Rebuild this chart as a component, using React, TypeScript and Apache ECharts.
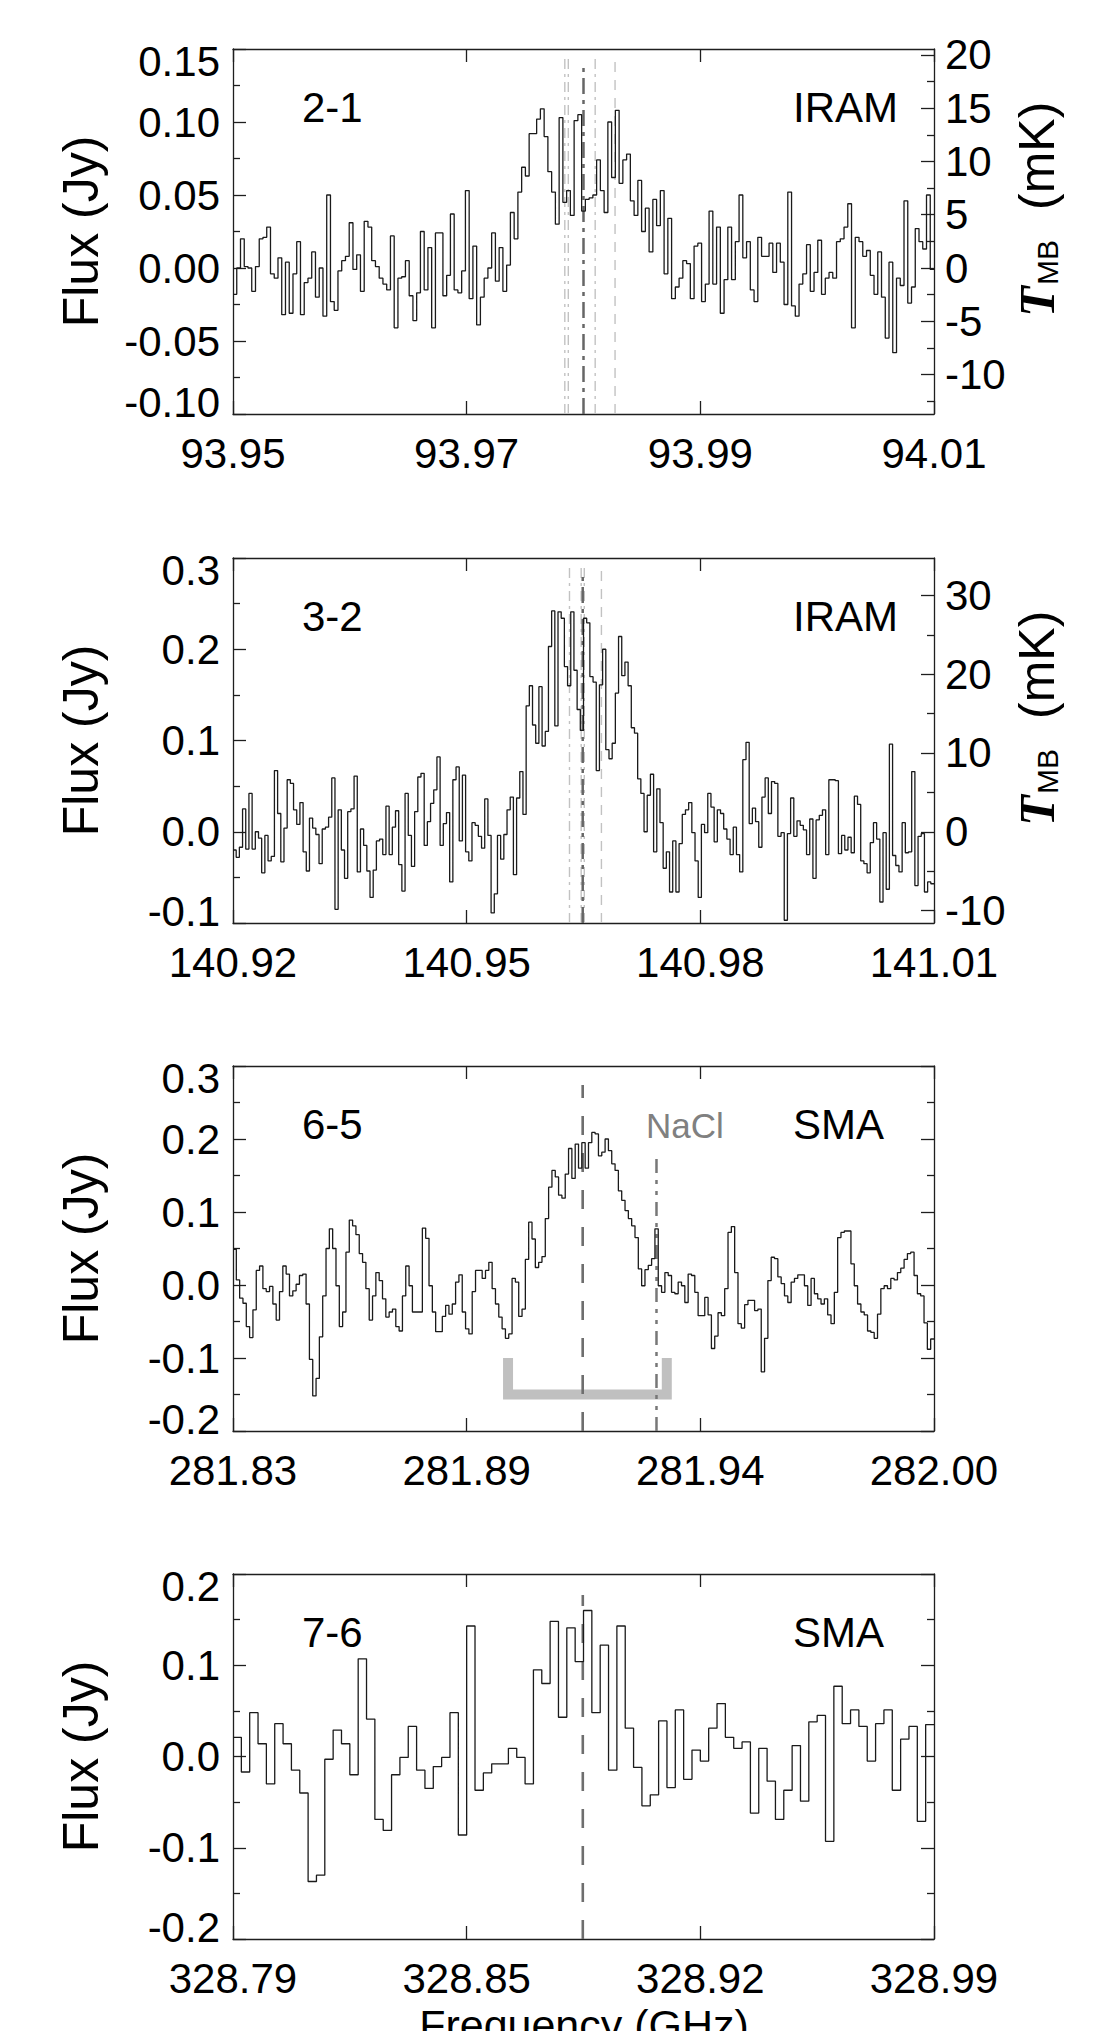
import React, { useEffect, useRef } from "react";
import * as echarts from "echarts";

// ---------- layout (pixels) ----------
const GRID_TOPS = [49, 558, 1066, 1574];
const GRID_LEFT = 233;
const GRID_W = 701;
const GRID_H = 365;
const FONT = "'Liberation Sans', Arial, Helvetica, sans-serif";
const FRAME = "#1e1e1e";

// ---------- axes ----------
const xMin = [93.95, 140.92, 281.83, 328.79];
const xMax = [94.01, 141.01, 282.0, 328.99];
const xTickLabels = [
  ["93.95", "93.97", "93.99", "94.01"],
  ["140.92", "140.95", "140.98", "141.01"],
  ["281.83", "281.89", "281.94", "282.00"],
  ["328.79", "328.85", "328.92", "328.99"],
];
const yMin = [-0.1, -0.1, -0.2, -0.2];
const yMax = [0.15, 0.3, 0.3, 0.2];
const yStep = [0.05, 0.1, 0.1, 0.1];
const yDigits = [2, 1, 1, 1];

// right-hand main-beam temperature axes (panels 1 and 2)
const tmbPerJy = [137.0, 115.8];
const tmbTicks = [
  [-10, -5, 0, 5, 10, 15, 20],
  [-10, 0, 10, 20, 30],
];
const tmbStep = [5, 10];

const transitionLabels = ["2-1", "3-2", "6-5", "7-6"];
const telescopeLabels = ["IRAM", "IRAM", "SMA", "SMA"];

// ---------- spectra (Jy per channel) ----------
const flux21 = [
  -0.018, 0.0, 0.02, 0.001, 0.0, -0.016, 0.001, 0.02, 0.021, 0.028,
  -0.004, -0.007, 0.007, -0.032, 0.004, -0.031, -0.004, 0.018, -0.032, -0.01,
  -0.007, 0.011, -0.02, 0.0, -0.033, 0.05, -0.023, -0.029, -0.002, 0.005,
  0.008, 0.031, -0.001, 0.009, -0.016, 0.032, 0.028, 0.005, 0.001, -0.007,
  -0.011, -0.015, 0.022, -0.041, -0.007, -0.006, 0.005, -0.019, -0.036, -0.017,
  0.025, -0.015, 0.014, -0.041, 0.024, 0.024, -0.019, -0.005, 0.037, -0.015,
  -0.017, -0.002, 0.053, -0.021, 0.015, -0.039, -0.02, -0.007, 0.0, 0.024,
  -0.009, 0.014, -0.016, 0.002, 0.038, 0.02, 0.052, 0.069, 0.063, 0.092,
  0.092, 0.102, 0.109, 0.09, 0.066, 0.052, 0.03, 0.103, 0.045, 0.053,
  0.036, 0.101, 0.105, 0.039, 0.047, 0.048, 0.05, 0.074, 0.053, 0.038,
  0.1, 0.062, 0.108, 0.058, 0.074, 0.078, 0.046, 0.036, 0.06, 0.025,
  0.041, 0.011, 0.047, 0.029, 0.053, -0.004, 0.034, -0.021, -0.013, -0.007,
  0.005, 0.003, -0.021, 0.015, 0.017, -0.023, -0.011, 0.039, -0.011, 0.028,
  -0.031, -0.008, 0.028, -0.008, 0.018, 0.05, 0.007, 0.018, -0.015, -0.023,
  0.021, 0.008, 0.008, 0.017, -0.003, 0.017, 0.004, -0.025, 0.052, -0.026,
  -0.033, -0.011, -0.004, 0.016, -0.016, -0.003, 0.019, -0.018, -0.007, -0.003,
  -0.007, 0.018, 0.02, 0.028, 0.044, -0.041, 0.021, 0.018, 0.008, 0.012,
  -0.005, -0.018, 0.011, -0.02, -0.048, 0.004, -0.058, -0.007, -0.012, 0.046,
  -0.024, -0.013, 0.027, 0.018, 0.013, 0.05, -0.001,
];

const flux32 = [
  -0.02, -0.028, -0.017, 0.025, -0.019, 0.042, -0.019, 0.0, -0.007, -0.045,
  -0.004, -0.032, -0.027, 0.067, 0.02, -0.033, 0.004, 0.057, 0.053, 0.024,
  0.008, 0.032, -0.022, -0.043, 0.015, 0.004, -0.003, -0.035, 0.003, 0.005,
  0.016, 0.059, -0.085, 0.024, -0.02, -0.051, 0.022, 0.025, 0.061, -0.044,
  0.003, -0.015, -0.043, -0.072, -0.042, -0.01, -0.008, -0.025, 0.028, -0.025,
  0.005, 0.023, -0.036, -0.065, 0.042, -0.004, -0.038, 0.022, 0.06, 0.064,
  -0.015, 0.011, 0.031, 0.046, 0.082, -0.015, 0.009, 0.021, -0.055, 0.057,
  0.071, -0.01, 0.062, -0.022, -0.032, 0.01, 0.007, -0.005, -0.018, 0.036,
  -0.004, -0.089, -0.068, -0.004, -0.03, -0.003, 0.024, 0.038, -0.047, 0.037,
  0.066, 0.019, 0.138, 0.16, 0.117, 0.097, 0.159, 0.094, 0.11, 0.203,
  0.242, 0.116, 0.241, 0.234, 0.181, 0.16, 0.241, 0.177, 0.134, 0.111,
  0.234, 0.229, 0.17,
  0.164, 0.067, 0.161, 0.2, 0.09, 0.08, 0.097, 0.152, 0.214, 0.171,
  0.186, 0.16, 0.114, 0.108, 0.058, 0.042, 0.0, 0.04, 0.063, -0.022,
  0.047, 0.01, -0.04, -0.022, -0.066, -0.01, -0.066, -0.013, 0.019, 0.024,
  0.032, -0.001, -0.032, -0.072, 0.008, -0.001, 0.042, 0.027, -0.011, 0.024,
  0.02, 0.003, -0.008, -0.025, 0.005, -0.025, -0.044, 0.079, 0.098, 0.009,
  0.026, 0.011, -0.017, 0.038, 0.059, 0.02, 0.055, 0.053, -0.005, -0.001,
  -0.097, -0.002, 0.037, -0.005, 0.012, 0.007, 0.002, -0.025, 0.014, -0.051,
  0.013, 0.018, 0.024, -0.025, 0.057, 0.057, 0.056, -0.024, -0.004, -0.02,
  -0.006, -0.023, 0.039, 0.03, -0.032, -0.035, -0.045, -0.012, 0.01, -0.008,
  -0.077, -0.001, -0.063, 0.096, -0.026, -0.037, -0.044, 0.01, -0.023, -0.022,
  0.066, -0.059, -0.005, -0.002, -0.066, -0.055, -0.057,
];

const flux65 = [
  0.049, 0.007, -0.018, -0.025, -0.057, -0.072, -0.034, 0.02, 0.026, -0.005,
  -0.009, -0.002, -0.026, -0.048, -0.009, 0.026, 0.015, -0.015, -0.008, 0.001,
  0.013, 0.015, -0.026, -0.102, -0.152, -0.128, -0.071, -0.015, 0.05, 0.077,
  0.05, -0.001, -0.057, -0.037, 0.045, 0.089, 0.081, 0.069, 0.043, 0.031,
  -0.005, -0.048, -0.015, 0.017, 0.006, -0.019, -0.044, -0.037, -0.033, -0.057,
  -0.063, -0.015, 0.026, -0.001, -0.037, -0.037, -0.037, 0.078, 0.064, -0.001,
  -0.037, -0.064, -0.064, -0.043, -0.028, -0.04, -0.026, 0.004, 0.014, -0.037,
  -0.06, -0.067, -0.009, 0.02, 0.02, 0.009, 0.02, 0.031, -0.005, -0.026,
  -0.044, -0.06, -0.073, -0.067, 0.009, 0.004, -0.043, -0.033, 0.035, 0.086,
  0.063, 0.024, 0.031, 0.039, 0.091, 0.134, 0.157, 0.148, 0.123, 0.119,
  0.152, 0.187, 0.146, 0.193, 0.16, 0.195, 0.16,
  0.195, 0.209, 0.207, 0.177, 0.182, 0.2, 0.184, 0.166, 0.157, 0.129,
  0.116, 0.102, 0.091, 0.081, 0.065, 0.022, -0.001, 0.021, 0.027, 0.036,
  0.077, -0.001, -0.01, 0.017, 0.013, -0.01, -0.012, 0.004, -0.001, -0.024,
  0.015, 0.013, -0.01, -0.042, -0.042, -0.017, -0.041, -0.087, -0.07, -0.038,
  -0.042, -0.005, 0.072, 0.08, 0.017, -0.053, -0.059, -0.027, -0.021, -0.021,
  -0.035, -0.033, -0.119, -0.073, 0.006, 0.038, 0.036, 0.011, 0.002, -0.015,
  -0.024, 0.004, 0.009, 0.014, 0.014, -0.001, -0.028, 0.009, -0.012, -0.019,
  -0.026, -0.019, -0.041, -0.053, -0.01, 0.065, 0.072, 0.074, 0.074, 0.029,
  -0.001, -0.026, -0.037, -0.041, -0.063, -0.065, -0.073, -0.04, -0.005, -0.001,
  -0.005, 0.009, 0.007, 0.017, 0.023, 0.035, 0.043, 0.045, 0.013, -0.012,
  -0.015, -0.052, -0.088, -0.074,
];

const flux76 = [
  0.021, -0.017, 0.048, 0.014, -0.03, 0.036, 0.014, -0.015, -0.04, -0.137,
  -0.13, -0.003, 0.029, 0.014, -0.02, 0.107, 0.041, -0.069, -0.081, -0.02,
  -0.001, 0.033, -0.015, -0.035, -0.011, -0.001, 0.048, -0.086, 0.143, -0.037,
  -0.018, -0.008, -0.008, 0.009, -0.001, -0.03, 0.095, 0.08, 0.148, 0.043,
  0.141, 0.104, 0.16,
  0.048, 0.122, -0.015, 0.143, 0.031, -0.012, -0.054, -0.042, 0.039, -0.034,
  0.051, -0.025, 0.007, -0.005, 0.031, 0.058, 0.021, 0.009, 0.016, -0.062,
  0.009, -0.027, -0.069, -0.037, 0.012, -0.049, 0.038, 0.045, -0.093, 0.077,
  0.036, 0.051, 0.033, -0.005, 0.036, 0.051, -0.037, 0.019, 0.033, -0.071,
  0.035,
];

const spectra = [flux21, flux32, flux65, flux76];

// ---------- reference frequency markers ----------
const lineFreqs = [
  [93.9784, 93.9787, 93.981, 93.9827, 93.98],
  [140.9632, 140.9647, 140.9651, 140.9673, 140.9649],
  [281.9148, 281.9327],
  [328.8898],
];
const lineTops = [
  [0.1438, 0.1438, 0.1438, 0.1438, 0.137],
  [0.2904, 0.2904, 0.2904, 0.2904, 0.2795],
  [0.274, 0.181],
  [0.177],
];
const lineKinds = [
  ["light", "light", "light", "lightDash", "dark"],
  ["light", "light", "light", "lightDash", "dark"],
  ["dash", "nacl"],
  ["dash"],
];

// velocity-range bracket in the 6-5 panel
const bracketFreqs = [281.8967, 281.9352];
const bracketFlux = [-0.1, -0.15];

const lineStyles: Record<string, any> = {
  light: { color: "#c2c2c2", width: 1.4, type: [10, 5, 3, 5] },
  lightDash: { color: "#c2c2c2", width: 1.4, type: [10, 8] },
  dark: { color: "#666666", width: 2.5, type: [16, 6, 4, 6] },
  dash: { color: "#6e6e6e", width: 2.6, type: [19, 18] },
  nacl: { color: "#777777", width: 2.5, type: [14, 7, 4, 7, 4, 7] },
};

function stepData(vals: number[], f0: number, f1: number) {
  const w = (f1 - f0) / vals.length;
  const d = vals.map((v, i) => [f0 + i * w, v]);
  d.push([f1, vals[vals.length - 1]]);
  return d;
}

function buildOption() {
  const grids: any[] = [];
  const xAxes: any[] = [];
  const yAxes: any[] = [];
  const series: any[] = [];
  const graphics: any[] = [];

  const tickLine = { color: FRAME, width: 1.3 };
  const axisLine = { show: true, onZero: false, lineStyle: { color: FRAME, width: 1.3 } };
  const labelBase = { fontSize: 42, fontFamily: FONT, color: "#000" };
  const txt = (extra: any) => ({
    fontFamily: FONT,
    fill: "#000",
    align: "left",
    textAlign: "left",
    verticalAlign: "middle",
    textVerticalAlign: "middle",
    ...extra,
  });

  for (let p = 0; p < 4; p++) {
    const top = GRID_TOPS[p];
    grids.push({ left: GRID_LEFT, top, width: GRID_W, height: GRID_H, containLabel: false });

    const span = xMax[p] - xMin[p];
    const xt = [0, 1, 2, 3].map((k) => xMin[p] + (span * k) / 3);
    const xfmt = (v: number) => {
      const k = Math.round(((v - xMin[p]) / span) * 3);
      return xTickLabels[p][k] ?? "";
    };
    const xCommon = {
      type: "value",
      gridIndex: p,
      min: xMin[p],
      max: xMax[p],
      axisLine,
      splitLine: { show: false },
      axisTick: { show: true, inside: true, length: 13, customValues: xt, lineStyle: tickLine },
    };
    xAxes.push({
      ...xCommon,
      position: "bottom",
      axisLabel: { ...labelBase, show: true, margin: 18, customValues: xt, formatter: xfmt },
    });
    xAxes.push({ ...xCommon, position: "top", axisLabel: { show: false } });

    const yfmt = (v: number) => {
      const vv = Math.abs(v) < 1e-9 ? 0 : v;
      const s = vv.toFixed(yDigits[p]);
      if (Math.abs(v - yMax[p]) < 1e-9) return `{top|${s}}`;
      if (Math.abs(v - yMin[p]) < 1e-9) return `{bot|${s}}`;
      return s;
    };
    const yCommon = {
      type: "value",
      gridIndex: p,
      axisLine,
      splitLine: { show: false },
      minorSplitLine: { show: false },
      axisTick: { show: true, inside: true, length: 13, lineStyle: tickLine },
      minorTick: { show: true, splitNumber: 2, length: 7, lineStyle: tickLine },
    };
    yAxes.push({
      ...yCommon,
      position: "left",
      min: yMin[p],
      max: yMax[p],
      interval: yStep[p],
      axisLabel: {
        ...labelBase,
        margin: 13,
        formatter: yfmt,
        rich: {
          top: { ...labelBase, padding: [24, 0, 0, 0] },
          bot: { ...labelBase, padding: [0, 0, 24, 0] },
        },
      },
    });
    if (p < 2) {
      const k = tmbPerJy[p];
      yAxes.push({
        ...yCommon,
        position: "right",
        min: yMin[p] * k,
        max: yMax[p] * k,
        minInterval: tmbStep[p],
        maxInterval: tmbStep[p],
        splitNumber: 5,
        axisTick: { ...yCommon.axisTick, customValues: tmbTicks[p] },
        axisLabel: {
          ...labelBase,
          margin: 11,
          customValues: tmbTicks[p],
          formatter: (v: number) => String(Math.round(v)),
        },
      });
    } else {
      yAxes.push({
        ...yCommon,
        position: "right",
        min: yMin[p],
        max: yMax[p],
        interval: yStep[p],
        axisLabel: { show: false },
      });
    }

    // spectrum
    series.push({
      type: "line",
      xAxisIndex: 2 * p,
      yAxisIndex: 2 * p,
      data: stepData(spectra[p], xMin[p], xMax[p]),
      step: "end",
      symbol: "none",
      showSymbol: false,
      silent: true,
      lineStyle: { color: "#1a1a1a", width: 1.3 },
      z: 4,
    });

    // marker lines
    lineFreqs[p].forEach((f, j) => {
      const kind = lineKinds[p][j];
      series.push({
        type: "line",
        xAxisIndex: 2 * p,
        yAxisIndex: 2 * p,
        data: [
          [f, yMin[p]],
          [f, lineTops[p][j]],
        ],
        symbol: "none",
        silent: true,
        lineStyle: lineStyles[kind],
        z: kind === "light" || kind === "lightDash" ? 2 : 3,
      });
    });

    // annotations
    graphics.push({ type: "text", x: 302, y: top + 58, style: txt({ text: transitionLabels[p], fontSize: 42 }) });
    graphics.push({ type: "text", x: 793, y: top + 58, style: txt({ text: telescopeLabels[p], fontSize: 42 }) });
    graphics.push({
      type: "text",
      x: 81,
      y: top + GRID_H / 2,
      rotation: Math.PI / 2,
      style: txt({ text: "Flux (Jy)", fontSize: 50, align: "center", textAlign: "center" }),
    });
    if (p < 2) {
      graphics.push({
        type: "group",
        x: 1037,
        y: top + 158,
        rotation: Math.PI / 2,
        children: [
          {
            type: "text",
            x: -110,
            y: 0,
            style: txt({
              text: "T",
              fontSize: 50,
              fontFamily: "'Liberation Serif', 'DejaVu Serif', serif",
              fontWeight: "bold",
              fontStyle: "italic",
            }),
          },
          { type: "text", x: -78, y: 10, style: txt({ text: "MB", fontSize: 30 }) },
          { type: "text", x: -3, y: 0, style: txt({ text: "(mK)", fontSize: 50 }) },
        ],
      });
    }
  }

  // bracket in panel 3
  series.push({
    type: "line",
    xAxisIndex: 4,
    yAxisIndex: 4,
    data: [
      [bracketFreqs[0], bracketFlux[0]],
      [bracketFreqs[0], bracketFlux[1]],
      [bracketFreqs[1], bracketFlux[1]],
      [bracketFreqs[1], bracketFlux[0]],
    ],
    symbol: "none",
    silent: true,
    lineStyle: { color: "#c0c0c0", width: 10, cap: "butt", join: "miter" },
    z: 1,
  });

  graphics.push({ type: "text", x: 646, y: 1125.5, style: txt({ text: "NaCl", fontSize: 35, fill: "#808080" }) });
  graphics.push({
    type: "text",
    x: 584,
    y: 2025,
    style: txt({ text: "Frequency (GHz)", fontSize: 43, align: "center", textAlign: "center" }),
  });

  return {
    animation: false,
    backgroundColor: "#ffffff",
    grid: grids,
    xAxis: xAxes,
    yAxis: yAxes,
    series,
    graphic: graphics,
  };
}

export default function App() {
  const ref = useRef<HTMLDivElement>(null);
  useEffect(() => {
    document.body.style.margin = "0";
    if (!ref.current) return;
    const chart = echarts.init(ref.current, null, { renderer: "svg" });
    chart.setOption(buildOption() as any);
    return () => chart.dispose();
  }, []);
  return <div ref={ref} style={{ width: 1104, height: 2031 }} />;
}
